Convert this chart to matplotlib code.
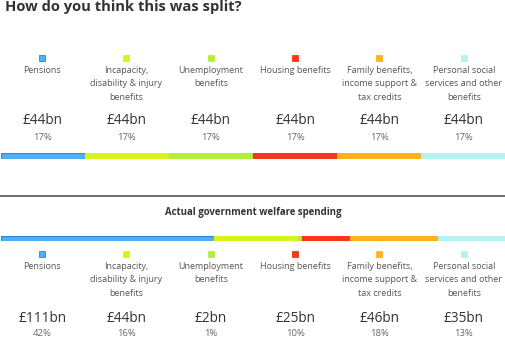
import numpy as np
import matplotlib
matplotlib.use("Agg")
import matplotlib.pyplot as plt

plt.rcParams['font.family'] = ['Open Sans', 'DejaVu Sans']

categories = ["Pensions", "Incapacity,\ndisability & injury\nbenefits", "Unemployment\nbenefits",
              "Housing benefits", "Family benefits,\nincome support &\ntax credits",
              "Personal social\nservices and other\nbenefits"]
colors = ["#4fb0f5", "#d8f21c", "#b2ee3c", "#f8351f", "#ffb31a", "#b6f2f0"]
edges = ["#2f86db", "#d8f21c", "#b2ee3c", "#f8351f", "#ffb31a", "#b6f2f0"]

guess_values = [44, 44, 44, 44, 44, 44]
guess_labels = ["£44bn"] * 6
guess_pcts = ["17%"] * 6

actual_values = [111, 44, 2, 25, 46, 35]
actual_labels = ["£111bn", "£44bn", "£2bn", "£25bn", "£46bn", "£35bn"]
actual_pcts = ["42%", "16%", "1%", "10%", "18%", "13%"]

W, H = 506, 337
fig = plt.figure(figsize=(W / 100, H / 100), dpi=100)

# overlay in pixel coords for text
ax = fig.add_axes([0, 0, 1, 1])
ax.set_xlim(0, W)
ax.set_ylim(H, 0)
ax.axis("off")


def stacked_bar(vals, y0, y1):
    b = fig.add_axes([1 / W, 1 - y1 / H, (W - 2) / W, (y1 - y0) / H])
    left = np.concatenate([[0], np.cumsum(vals)[:-1]])
    b.barh(0, vals, left=left, height=1, color=colors, edgecolor=edges, linewidth=0.8)
    b.set_xlim(0, sum(vals))
    b.set_ylim(-0.5, 0.5)
    b.axis("off")


def block(labels, pcts, y_sq, y_lab, y_val, y_pct):
    for i, name in enumerate(categories):
        cx = (i + 0.5) * W / 6
        ax.scatter(cx, y_sq, marker="s", s=20, color=colors[i], edgecolors=edges[i], linewidths=0.6)
        ax.text(cx, y_lab, name, ha="center", va="top", fontsize=6.5, color="#555555",
                linespacing=1.62)
        ax.text(cx, y_val, labels[i], ha="center", va="center", fontsize=9.8, color="#333333")
        ax.text(cx, y_pct, pcts[i], ha="center", va="center", fontsize=6.8, color="#666666")


ax.text(5, 7, "How do you think this was split?", ha="left", va="center",
        fontsize=10.6, fontweight="bold", color="#333333")

block(guess_labels, guess_pcts, 58, 66, 121, 137)
stacked_bar(guess_values, 153, 158.5)

ax.plot([0, W], [196, 196], color="#555555", lw=1.2)
ax.text(W / 2, 213, "Actual government welfare spending", ha="center", va="center",
        fontsize=6.9, fontweight="bold", color="#333333")

stacked_bar(actual_values, 235.5, 241)
block(actual_labels, actual_pcts, 254, 262, 318, 333)

fig.savefig("out.png", dpi=100)
